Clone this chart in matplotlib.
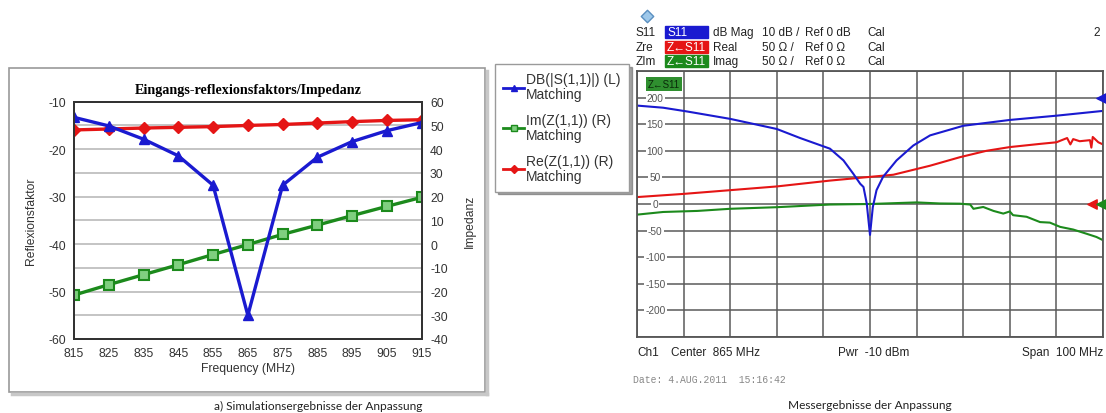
import numpy as np
import matplotlib.pyplot as plt
from matplotlib.patches import Rectangle
from matplotlib.lines import Line2D

W, H = 1106, 414

# ---- simulation (left chart) ----
freq = [815, 825, 835, 845, 855, 865, 875, 885, 895, 905, 915]
s11_db = [-13.3, -15.1, -17.9, -21.4, -27.6, -55.0, -27.6, -21.7, -18.4, -16.1, -14.4]
im_z = [-21.5, -17.1, -12.9, -8.7, -4.4, -0.2, 4.1, 8.0, 12.0, 15.9, 19.7]
re_z = [48.1, 48.5, 48.9, 49.2, 49.5, 50.0, 50.4, 51.0, 51.6, 52.1, 52.4]

meas_s11_f = [815, 820.6, 825.7, 835, 845, 850, 856.4, 859.3, 861.4, 862.9, 863.6,
              864.3, 865.0, 865.6, 866.4, 867.8, 870.7, 874.3, 877.9, 885, 895, 905, 915]
meas_s11_v = [185, 181, 174, 160, 141, 124, 104, 82, 57, 38, 32,
              1, -58, -6, 26, 51, 82, 110, 129, 147, 158, 166, 175]

meas_re_f = [815, 825, 835, 845, 856.4, 865, 870, 877.9, 884.3, 890, 895, 901.5,
             905, 907.3, 908.0, 908.6, 910.0, 912.2, 912.5, 912.8, 914.0, 915]
meas_re_v = [13, 19, 26, 33, 44, 51, 55, 72, 88, 100, 107, 113,
             116, 124, 112, 122, 118, 120, 106, 126, 116, 112]

meas_im_f = [815, 820.6, 828, 835, 845, 856.4, 865, 875, 880, 884.3, 886.5, 887.2,
             889.3, 891.5, 893.6, 895.0, 895.7, 898.6, 901.5, 903.6, 905.8, 908.6,
             911.5, 913.6, 915]
meas_im_v = [-20, -15, -13, -9, -6, -1, 0, 3, 1, 0.6, -1, -9,
             -5.6, -13, -18, -14, -21, -24, -34, -35, -43, -48,
             -56, -62, -68]

right_labels = [200, 150, 100, 50, 0, -50, -100, -150, -200]

BLUE = '#1a1ad0'
GREEN = '#1c8a1c'
RED = '#e51515'

plt.rcParams['font.family'] = ['Liberation Sans', 'DejaVu Sans']
plt.rcParams['axes.unicode_minus'] = False

fig = plt.figure(figsize=(W / 100, H / 100), dpi=100)

# background overlay in pixel coords for frames and loose texts
bg = fig.add_axes([0, 0, 1, 1], zorder=-1)
bg.set_xlim(0, W)
bg.set_ylim(H, 0)
bg.axis('off')

# frame + shadow of the simulation chart
bg.add_patch(Rectangle((9, 69), 476, 324, fill=False, edgecolor='#9a9a9a', lw=1.2))
bg.plot([487, 487], [72, 395], color='#c8c8c8', lw=2.5)
bg.plot([12, 487], [395, 395], color='#c8c8c8', lw=2.5)

# ---- left chart ----
ax = fig.add_axes([74 / W, 1 - 340 / H, 347.7 / W, 237.3 / H])
ax2 = ax.twinx()
ax.set_zorder(ax2.get_zorder() + 1)
ax.patch.set_visible(False)

ax.set_xlim(815, 915)
ax.set_ylim(-60, -10)
ax2.set_ylim(-40, 60)
ax.set_xticks(freq)
ax.set_yticks(np.arange(-60, -9, 10))
ax2.set_yticks(np.arange(-40, 61, 10))
ax2.set_xticks(freq)
ax2.grid(True, color='#c4c4c4', lw=1.4)
ax2.set_axisbelow(True)
for a in (ax, ax2):
    a.tick_params(length=0, labelsize=8.7, labelcolor='#333333', pad=6)
    for s in a.spines.values():
        s.set_color('#333333')
        s.set_linewidth(1.4)

ax2.plot(freq, re_z, color=RED, lw=2.4, marker='D', ms=6, mfc=RED, mec=RED)
ax2.plot(freq, im_z, color=GREEN, lw=2.4, marker='s', ms=6.5, mfc='#7fcf7f', mec=GREEN, mew=1.5)
ax.plot(freq, s11_db, color=BLUE, lw=2.4, marker='^', ms=7.5, mfc=BLUE, mec=BLUE)

ax.set_title('Eingangs-reflexionsfaktors/Impedanz', family='Liberation Serif',
             fontweight='bold', fontsize=10.2, pad=6)
ax.set_xlabel('Frequency (MHz)', fontsize=8.7, color='#333333', labelpad=2)
ax.set_ylabel('Reflexionsfaktor', fontsize=8.7, color='#333333', labelpad=8)
ax2.set_ylabel('Impedanz', fontsize=8.7, color='#333333', labelpad=12)

handles = [
    Line2D([], [], color=BLUE, lw=2, marker='^', ms=5, mfc=BLUE, mec=BLUE),
    Line2D([], [], color=GREEN, lw=2, marker='s', ms=5, mfc='#7fcf7f', mec=GREEN),
    Line2D([], [], color=RED, lw=2, marker='D', ms=4.5, mfc=RED, mec=RED),
]
labels = ['DB(|S(1,1)|) (L)\nMatching', 'Im(Z(1,1)) (R)\nMatching', 'Re(Z(1,1)) (R)\nMatching']
leg = fig.legend(handles, labels, loc='upper left', bbox_to_anchor=(495 / W, 1 - 65 / H),
                 fontsize=10, frameon=True, fancybox=False, shadow=True, edgecolor='#9a9a9a',
                 handlelength=1.5, handletextpad=0.15, labelspacing=0.85, borderpad=0.6,
                 borderaxespad=0)
for t in leg.get_texts():
    t.set_color('#333333')
    t.set_linespacing(1.1)

bg.text(318, 406, 'a) Simulationsergebnisse der Anpassung', family='Lato',
        fontsize=8.6, ha='center', va='center', color='#222222')

# ---- right chart (network analyser screenshot) ----
axr = fig.add_axes([637 / W, 1 - 338 / H, 466 / W, 266 / H])
axr.set_xlim(815, 915)
axr.set_ylim(-250, 250)
axr.set_xticks(np.arange(815, 916, 10))
axr.set_yticks(np.arange(-250, 251, 50))
axr.tick_params(length=0, labelleft=False, labelbottom=False)
axr.grid(True, color='#5a5a5a', lw=1.1)
axr.set_axisbelow(True)
for s in axr.spines.values():
    s.set_color('#555555')
    s.set_linewidth(1.3)

axr.plot(meas_im_f, meas_im_v, color=GREEN, lw=1.5)
axr.plot(meas_re_f, meas_re_v, color=RED, lw=1.5)
axr.plot(meas_s11_f, meas_s11_v, color=BLUE, lw=1.5)

for v in right_labels:
    axr.text(0.039, v, str(v), transform=axr.get_yaxis_transform(), ha='center', va='center',
             fontsize=7.3, color='#555555',
             bbox=dict(boxstyle='square,pad=0.12', fc='white', ec='none'))

axr.scatter([914.6], [200], marker='<', s=45, color=BLUE, clip_on=False, zorder=5)
axr.scatter([912.6], [0], marker='<', s=45, color=RED, clip_on=False, zorder=5)
axr.scatter([914.6], [0], marker='<', s=45, color=GREEN, clip_on=False, zorder=5)
axr.text(0.024, 0.95, 'Z\u2190S11', transform=axr.transAxes, fontsize=7, color='#0a2a0a',
         va='center', ha='left',
         bbox=dict(boxstyle='square,pad=0.2', fc='#2f8f2f', ec='none'))

# header of the analyser screen
bg.scatter([647], [17], marker='D', s=40, color='#9ec8ea', edgecolors='#5a8fc0')
rows = [
    (33, 'S11', 'S11', BLUE, 'dB Mag', '10 dB /', 'Ref 0 dB'),
    (48, 'Zre', 'Z\u2190S11', RED, 'Real', '50 \u03a9 /', 'Ref 0 \u03a9'),
    (62, 'ZIm', 'Z\u2190S11', GREEN, 'Imag', '50 \u03a9 /', 'Ref 0 \u03a9'),
]
for y, name, box, col, fmt, scale, ref in rows:
    bg.text(636, y, name, fontsize=8.5, va='center', color='#222222')
    bg.add_patch(Rectangle((665, y - 6), 43, 12, color=col))
    bg.text(667, y, box, fontsize=8.5, va='center', color='white')
    bg.text(713, y, fmt, fontsize=8.5, va='center', color='#222222')
    bg.text(762, y, scale, fontsize=8.5, va='center', color='#222222')
    bg.text(805, y, ref, fontsize=8.5, va='center', color='#222222')
    bg.text(867, y, 'Cal', fontsize=8.5, va='center', color='#222222')
bg.text(1100, 33, '2', fontsize=8.5, va='center', ha='right', color='#222222')

# footer of the analyser screen
bg.text(637, 353, 'Ch1', fontsize=8.5, va='center', color='#222222')
bg.text(671, 353, 'Center  865 MHz', fontsize=8.5, va='center', color='#222222')
bg.text(838, 353, 'Pwr  -10 dBm', fontsize=8.5, va='center', color='#222222')
bg.text(1103, 353, 'Span  100 MHz', fontsize=8.5, va='center', ha='right', color='#222222')
bg.text(633, 380, 'Date: 4.AUG.2011  15:16:42', family='Liberation Mono', fontsize=7,
        va='center', color='#888888')
bg.text(870, 406, 'Messergebnisse der Anpassung', family='Lato',
        fontsize=8.6, ha='center', va='center', color='#222222')

fig.savefig('out.png', dpi=100)
